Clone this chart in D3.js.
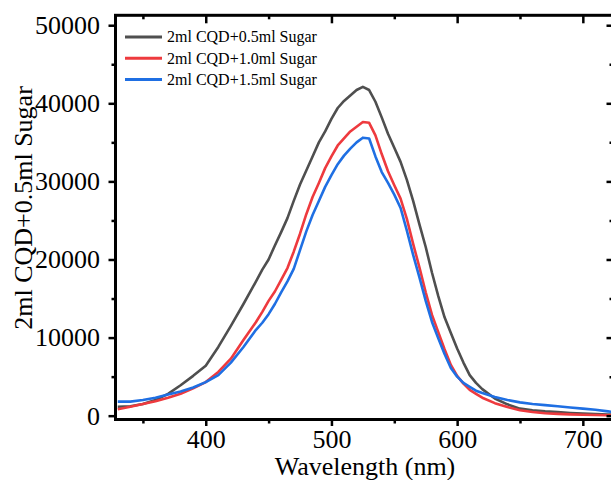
<!DOCTYPE html>
<html>
 <head>
  <meta charset="utf-8" />
  <title>CQD + Sugar emission spectra</title>
  <style>
   body, html {
    margin: 0;
    padding: 0;
    background-color: white;
    overflow: hidden;
   }
   svg text {
    font-family: "Liberation Serif", "Times New Roman", serif;
    fill: #000;
   }
  </style>
  <script src="https://cdnjs.cloudflare.com/ajax/libs/d3/7.9.0/d3.min.js"></script>
 </head>
 <body>
  <svg width="611" height="480"></svg>
  <script>
   // wavelength (nm)
   const wavelengths = [330, 340, 350, 360, 370, 380, 390, 400, 410, 420, 430, 440, 445, 450, 455, 460, 465, 470, 475, 480,
    485, 490, 495, 500, 505, 510, 515, 520, 525, 530, 535, 540, 545, 550, 555, 560, 565, 570, 575, 580,
    585, 590, 595, 600, 605, 610, 615, 620, 630, 640, 650, 660, 670, 680, 690, 700, 710, 720, 725];

   const sugar05 = [1150, 1200, 1500, 2000, 2800, 3900, 5100, 6400, 8800, 11500, 14300, 17200, 18700, 20000, 21800, 23500, 25300, 27500, 29600, 31400,
    33200, 35000, 36400, 38000, 39400, 40300, 41000, 41700, 42100, 41700, 40200, 38200, 36100, 34300, 32500, 30200, 27500, 24500, 21600, 18300,
    15300, 12600, 10600, 8600, 6800, 5200, 4200, 3400, 2200, 1450, 900, 700, 550, 450, 350, 280, 200, 150, 120];

   const sugar10 = [820, 1150, 1500, 1850, 2300, 2800, 3500, 4300, 5600, 7300, 9700, 12000, 13300, 14700, 15900, 17400, 18900, 21000, 23300, 25800,
    28000, 29800, 31700, 33200, 34600, 35500, 36400, 37000, 37600, 37500, 35900, 33500, 31300, 29500, 27800, 25200, 22000, 19000, 15800, 12900,
    10700, 8500, 6500, 5100, 4100, 3300, 2800, 2300, 1600, 1100, 700, 480, 320, 230, 170, 120, 80, 60, 50];

   const sugar15 = [1800, 1800, 2000, 2300, 2700, 3100, 3600, 4300, 5200, 6800, 8800, 11000, 11900, 13000, 14300, 15800, 17200, 18800, 21200, 23600,
    25700, 27500, 29300, 30800, 32200, 33300, 34200, 35000, 35600, 35500, 33200, 31200, 29800, 28300, 26600, 23700, 20600, 17700, 14700, 12000,
    9900, 7900, 6100, 5000, 4200, 3700, 3200, 2900, 2400, 2000, 1700, 1500, 1350, 1200, 1050, 900, 750, 550, 450];

   const seriesNames = ["2ml CQD+0.5ml Sugar", "2ml CQD+1.0ml Sugar", "2ml CQD+1.5ml Sugar"];
   const seriesValues = [sugar05, sugar10, sugar15];
   const seriesColors = ["#4f4f4f", "#ee3a3e", "#1f6fe3"];

   const xMajor = [400, 500, 600, 700];
   const xMinor = [350, 450, 550, 650];
   const yMajor = [0, 10000, 20000, 30000, 40000, 50000];
   const yMinor = [5000, 15000, 25000, 35000, 45000];

   const margin = {top: 15.3, left: 115.5};
   const plotW = 498;
   const plotH = 404.2;

   const svg = d3.select("svg");
   const g = svg.append("g").attr("transform", `translate(${margin.left},${margin.top})`);

   const x = d3.scaleLinear().domain([328.2, 724.4]).range([0, plotW]);
   const y = d3.scaleLinear().domain([-490, 51270]).range([plotH, 0]);

   g.append("clipPath").attr("id", "plotclip")
    .append("rect").attr("width", plotW).attr("height", plotH);

   const line = d3.line()
    .x((d, i) => x(wavelengths[i]))
    .y(d => y(d));

   g.append("g").attr("clip-path", "url(#plotclip)")
    .selectAll("path")
    .data(seriesValues)
    .enter().append("path")
    .attr("d", d => line(d))
    .attr("fill", "none")
    .attr("stroke", (d, i) => seriesColors[i])
    .attr("stroke-width", 2.6)
    .attr("stroke-linejoin", "round");

   function styleAxis(sel, fontSize) {
    sel.select(".domain").remove();
    sel.selectAll(".tick line").attr("stroke", "#000").attr("stroke-width", 2.5);
    sel.selectAll(".tick text")
     .attr("font-family", "Liberation Serif, Times New Roman, serif")
     .attr("font-size", fontSize)
     .attr("fill", "#000");
   }

   // bottom
   g.append("g").attr("transform", `translate(0,${plotH})`)
    .call(d3.axisBottom(x).tickValues(xMajor).tickSize(6.5).tickPadding(4))
    .call(s => styleAxis(s, 26));
   g.append("g").attr("transform", `translate(0,${plotH})`)
    .call(d3.axisBottom(x).tickValues(xMinor).tickSize(4).tickFormat(""))
    .call(s => styleAxis(s, 26));
   // top (inward)
   g.append("g")
    .call(d3.axisTop(x).tickValues(xMajor).tickSize(-8).tickFormat(""))
    .call(s => styleAxis(s, 26));
   g.append("g")
    .call(d3.axisTop(x).tickValues(xMinor).tickSize(-4).tickFormat(""))
    .call(s => styleAxis(s, 26));
   // left
   g.append("g")
    .call(d3.axisLeft(y).tickValues(yMajor).tickSize(7).tickPadding(8.5).tickFormat(d3.format("d")))
    .call(s => styleAxis(s, 26));
   g.append("g")
    .call(d3.axisLeft(y).tickValues(yMinor).tickSize(4).tickFormat(""))
    .call(s => styleAxis(s, 26));
   // right (inward)
   g.append("g").attr("transform", `translate(${plotW},0)`)
    .call(d3.axisRight(y).tickValues(yMajor).tickSize(-7).tickFormat(""))
    .call(s => styleAxis(s, 26));
   g.append("g").attr("transform", `translate(${plotW},0)`)
    .call(d3.axisRight(y).tickValues(yMinor).tickSize(-4).tickFormat(""))
    .call(s => styleAxis(s, 26));

   // frame
   g.append("rect")
    .attr("width", plotW)
    .attr("height", plotH)
    .attr("fill", "none")
    .attr("stroke", "#000")
    .attr("stroke-width", 3);

   // legend
   const legend = g.append("g").attr("transform", "translate(9.5,21.7)");
   const rows = legend.selectAll("g")
    .data(seriesNames)
    .enter().append("g")
    .attr("transform", (d, i) => `translate(0,${i * 21.3})`);
   rows.append("line")
    .attr("x1", 0).attr("x2", 37)
    .attr("stroke", (d, i) => seriesColors[i])
    .attr("stroke-width", 3);
   rows.append("text")
    .attr("x", 42)
    .attr("dy", "0.33em")
    .attr("font-size", 16)
    .text(d => d);

   // axis titles
   svg.append("text")
    .attr("x", 365)
    .attr("y", 475)
    .attr("text-anchor", "middle")
    .attr("font-size", 26)
    .text("Wavelength (nm)");

   svg.append("text")
    .attr("transform", "translate(32,208) rotate(-90)")
    .attr("text-anchor", "middle")
    .attr("font-size", 26)
    .text("2ml CQD+0.5ml Sugar");
  </script>
 </body>
</html>
